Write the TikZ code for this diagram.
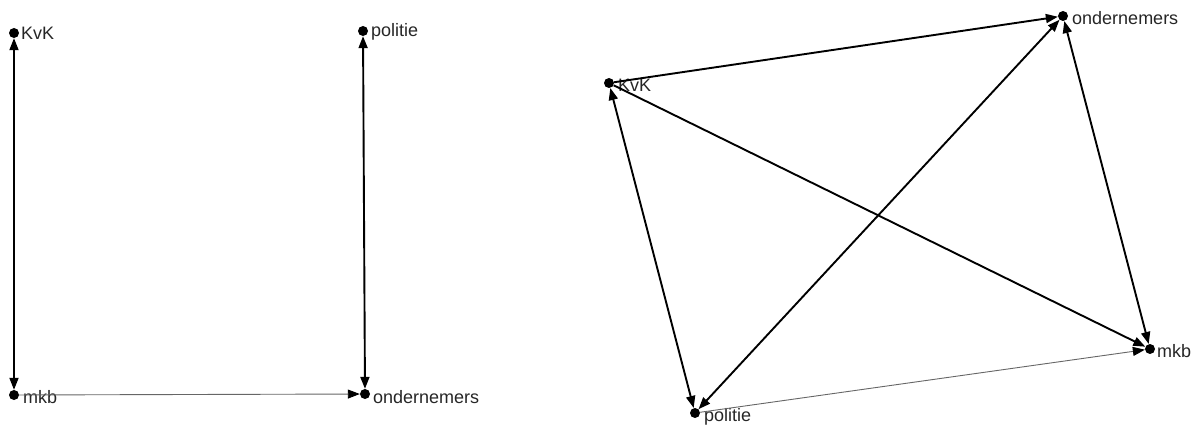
\documentclass[tikz,border=0pt]{standalone}
\usepackage{fontspec}
\setmainfont{Liberation Sans}
\usetikzlibrary{arrows.meta}

\begin{document}
\begin{tikzpicture}[x=1pt, y=-1pt,
        arr/.tip={Triangle[length=12pt,width=9pt]},
        actor/.style={circle, fill, inner sep=0pt, minimum size=10pt},
        lbl/.style={anchor=base west, inner sep=0pt, text=black!85, font=\fontsize{18}{20}\selectfont},
        tie/.style={line width=1.9pt, -arr},
        mutual/.style={line width=1.9pt, arr-arr},
        weak/.style={line width=0.9pt, black!60, -{Triangle[length=12pt,width=9pt,color=black]}}]
        \useasboundingbox (0,0) rectangle (1192,425);

        % left network
        \node[actor] (kvkA) at (14,33) {};
        \node[actor] (polA) at (363,31) {};
        \node[actor] (mkbA) at (14,395) {};
        \node[actor] (ondA) at (365,394) {};
        \node[lbl] (kvkAtxt) at (21,40) {KvK};
        \node[lbl] (polAtxt) at (371,37) {politie};
        \node[lbl] (mkbAtxt) at (23,403) {mkb};
        \node[lbl] (ondAtxt) at (373,403) {ondernemers};

        \draw[mutual] (kvkA) -- (mkbA);
        \draw[mutual] (polA) -- (ondA);
        \draw[weak] (mkbA) -- (ondA);

        % right network
        \node[actor] (kvkB) at (609,83) {};
        \node[actor] (ondB) at (1063,16) {};
        \node[actor] (mkbB) at (1150,349) {};
        \node[actor] (polB) at (695,413) {};
        \node[lbl] (kvkBtxt) at (618,92) {KvK};
        \node[lbl] (ondBtxt) at (1072,25) {ondernemers};
        \node[lbl] (mkbBtxt) at (1157,357) {mkb};
        \node[lbl] (polBtxt) at (704,421) {politie};

        \draw[tie] (kvkB) -- (ondB);
        \draw[tie] (kvkB) -- (mkbB);
        \draw[mutual] (kvkB) -- (polB);
        \draw[mutual] (polB) -- (ondB);
        \draw[mutual] (ondB) -- (mkbB);
        \draw[weak] (polB) -- (mkbB);

    \end{tikzpicture}
\end{document}
